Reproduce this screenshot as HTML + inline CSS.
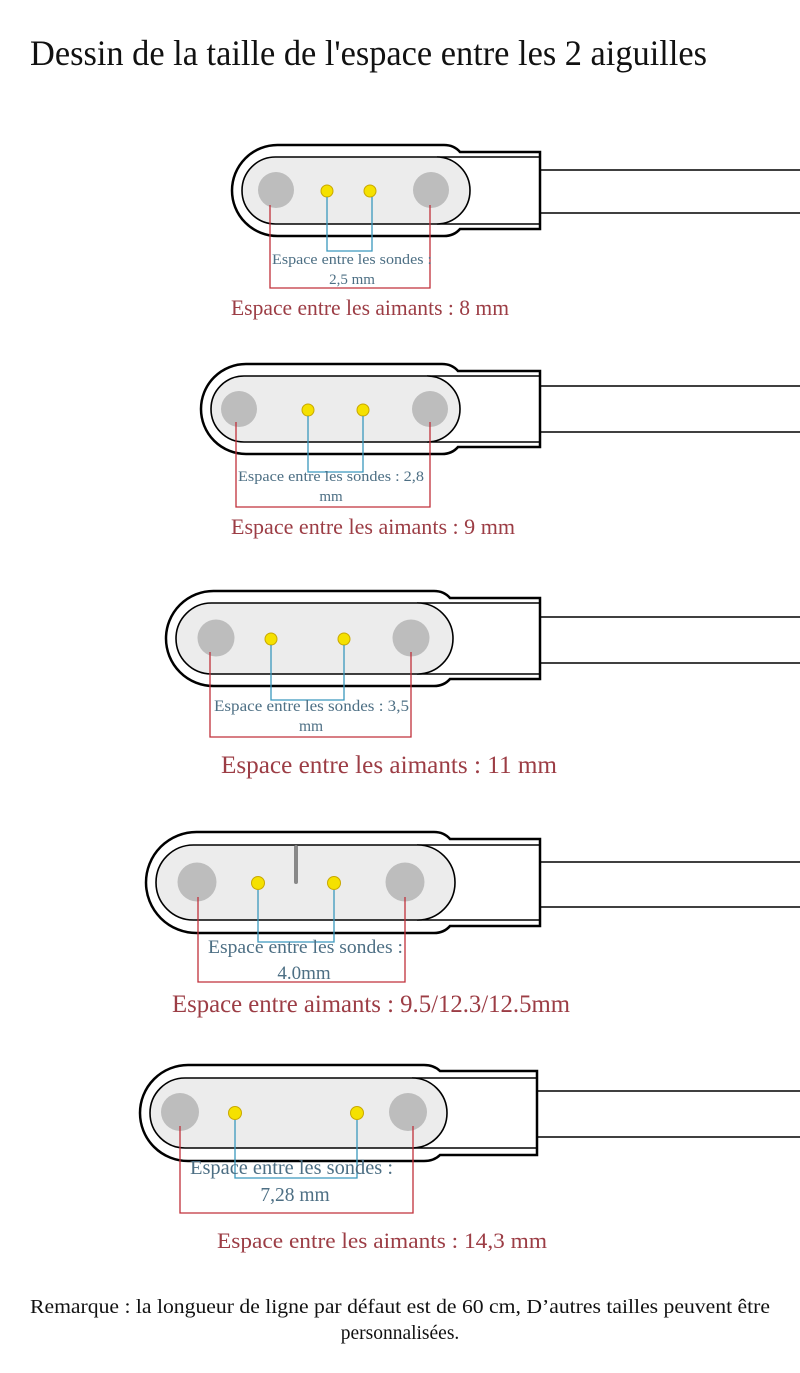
<!DOCTYPE html>
<html><head><meta charset="utf-8"><style>
body{margin:0;background:#fff}
svg{display:block}
text{font-family:"Liberation Serif",serif}
.o{fill:#fff;stroke:#000;stroke-width:2.5}
.p{fill:#ececec;stroke:#000;stroke-width:1.6}
.l{stroke:#000;stroke-width:1.4}
.m{fill:#bdbdbd}
.y{fill:#f5e100;stroke:#c9a800;stroke-width:1}
.b{fill:none;stroke:#3a98bd;stroke-width:1.3}
.r{fill:none;stroke:#c0303a;stroke-width:1.3}
.s{fill:#4d6f84}
.a{fill:#9c3d45}
</style></head><body>
<svg width="800" height="1373" viewBox="0 0 800 1373" xmlns="http://www.w3.org/2000/svg">
<text x="30" y="65" font-size="36" fill="#111" textLength="677" lengthAdjust="spacingAndGlyphs">Dessin de la taille de l'espace entre les 2 aiguilles</text>

<!-- 1 -->
<path class="o" d="M540,152 L460,152 Q454,145 444,145 L277.5,145 A45.5,45.5 0 0 0 277.5,236 L444,236 Q454,236 460,229 L540,229 Z"/>
<line class="l" x1="437" y1="157" x2="540" y2="157"/><line class="l" x1="437" y1="224" x2="540" y2="224"/>
<rect class="p" x="242" y="157" width="228" height="67" rx="33.5"/>
<line class="l" x1="540" y1="170" x2="800" y2="170"/><line class="l" x1="540" y1="213" x2="800" y2="213"/>
<circle class="m" cx="276" cy="190" r="18"/><circle class="m" cx="431" cy="190" r="18"/>
<circle class="y" cx="327" cy="191" r="6"/><circle class="y" cx="370" cy="191" r="6"/>
<polyline class="b" points="327,197 327,251 372,251 372,197"/>
<polyline class="r" points="270,205 270,288 430,288 430,205"/>
<text class="s" x="272" y="264" font-size="14.5" textLength="160" lengthAdjust="spacingAndGlyphs">Espace entre les sondes :</text>
<text class="s" x="352" y="284" font-size="15" text-anchor="middle">2,5 mm</text>
<text class="a" x="231" y="315" font-size="22.5" textLength="278" lengthAdjust="spacingAndGlyphs">Espace entre les aimants : 8 mm</text>

<!-- 2 -->
<path class="o" d="M540,371 L458,371 Q452,364 442,364 L246,364 A45,45 0 0 0 246,454 L442,454 Q452,454 458,447 L540,447 Z"/>
<line class="l" x1="427" y1="376" x2="540" y2="376"/><line class="l" x1="427" y1="442" x2="540" y2="442"/>
<rect class="p" x="211" y="376" width="249" height="66" rx="33"/>
<line class="l" x1="540" y1="386" x2="800" y2="386"/><line class="l" x1="540" y1="432" x2="800" y2="432"/>
<circle class="m" cx="239" cy="409" r="18"/><circle class="m" cx="430" cy="409" r="18"/>
<circle class="y" cx="308" cy="410" r="6"/><circle class="y" cx="363" cy="410" r="6"/>
<polyline class="b" points="308,416 308,472 363,472 363,416"/>
<polyline class="r" points="236,422 236,507 430,507 430,422"/>
<text class="s" x="238" y="481" font-size="15" textLength="186" lengthAdjust="spacingAndGlyphs">Espace entre les sondes : 2,8</text>
<text class="s" x="331" y="501" font-size="15" text-anchor="middle">mm</text>
<text class="a" x="231" y="534" font-size="22.5" textLength="284" lengthAdjust="spacingAndGlyphs">Espace entre les aimants : 9 mm</text>

<!-- 3 -->
<path class="o" d="M540,598 L450,598 Q444,591 434,591 L213.5,591 A47.5,47.5 0 0 0 213.5,686 L434,686 Q444,686 450,679 L540,679 Z"/>
<line class="l" x1="417" y1="603" x2="540" y2="603"/><line class="l" x1="417" y1="674" x2="540" y2="674"/>
<rect class="p" x="176" y="603" width="277" height="71" rx="35.5"/>
<line class="l" x1="540" y1="617" x2="800" y2="617"/><line class="l" x1="540" y1="663" x2="800" y2="663"/>
<circle class="m" cx="216" cy="638" r="18.5"/><circle class="m" cx="411" cy="638" r="18.5"/>
<circle class="y" cx="271" cy="639" r="6"/><circle class="y" cx="344" cy="639" r="6"/>
<polyline class="b" points="271,645 271,700 344,700 344,645"/>
<polyline class="r" points="210,652 210,737 411,737 411,652"/>
<text class="s" x="214" y="711" font-size="15.5" textLength="195" lengthAdjust="spacingAndGlyphs">Espace entre les sondes : 3,5</text>
<text class="s" x="311" y="731" font-size="15.5" text-anchor="middle">mm</text>
<text class="a" x="221" y="773" font-size="25" textLength="336" lengthAdjust="spacingAndGlyphs">Espace entre les aimants : 11 mm</text>

<!-- 4 -->
<path class="o" d="M540,839 L450,839 Q444,832 434,832 L196.5,832 A50.5,50.5 0 0 0 196.5,933 L434,933 Q444,933 450,926 L540,926 Z"/>
<line class="l" x1="417" y1="845" x2="540" y2="845"/><line class="l" x1="417" y1="920" x2="540" y2="920"/>
<rect class="p" x="156" y="845" width="299" height="75" rx="37.5"/>
<line class="l" x1="540" y1="862" x2="800" y2="862"/><line class="l" x1="540" y1="907" x2="800" y2="907"/>
<line x1="296" y1="847" x2="296" y2="882" stroke="#888" stroke-width="4" stroke-linecap="round"/>
<circle class="m" cx="197" cy="882" r="19.5"/><circle class="m" cx="405" cy="882" r="19.5"/>
<circle class="y" cx="258" cy="883" r="6.5"/><circle class="y" cx="334" cy="883" r="6.5"/>
<polyline class="b" points="258,890 258,942 334,942 334,890"/>
<polyline class="r" points="198,897 198,982 405,982 405,897"/>
<text class="s" x="208" y="953" font-size="19" textLength="195" lengthAdjust="spacingAndGlyphs">Espace entre les sondes :</text>
<text class="s" x="304" y="979" font-size="19" text-anchor="middle">4.0mm</text>
<text class="a" x="172" y="1012" font-size="25" textLength="398" lengthAdjust="spacingAndGlyphs">Espace entre aimants : 9.5/12.3/12.5mm</text>

<!-- 5 -->
<path class="o" d="M537,1071 L440,1071 Q434,1065 424,1065 L188,1065 A48,48 0 0 0 188,1161 L424,1161 Q434,1161 440,1155 L537,1155 Z"/>
<line class="l" x1="412" y1="1078" x2="537" y2="1078"/><line class="l" x1="412" y1="1148" x2="537" y2="1148"/>
<rect class="p" x="150" y="1078" width="297" height="70" rx="35"/>
<line class="l" x1="537" y1="1091" x2="800" y2="1091"/><line class="l" x1="537" y1="1137" x2="800" y2="1137"/>
<circle class="m" cx="180" cy="1112" r="19"/><circle class="m" cx="408" cy="1112" r="19"/>
<circle class="y" cx="235" cy="1113" r="6.5"/><circle class="y" cx="357" cy="1113" r="6.5"/>
<polyline class="b" points="235,1120 235,1178 357,1178 357,1120"/>
<polyline class="r" points="180,1126 180,1213 413,1213 413,1126"/>
<text class="s" x="190" y="1174" font-size="19.5" textLength="203" lengthAdjust="spacingAndGlyphs">Espace entre les sondes :</text>
<text class="s" x="295" y="1201" font-size="19.5" text-anchor="middle">7,28 mm</text>
<text class="a" x="217" y="1248" font-size="22.5" textLength="330" lengthAdjust="spacingAndGlyphs">Espace entre les aimants : 14,3 mm</text>

<text x="30" y="1313" font-size="19.5" fill="#111" textLength="740" lengthAdjust="spacingAndGlyphs">Remarque : la longueur de ligne par défaut est de 60 cm, D’autres tailles peuvent être</text>
<text x="400" y="1339" font-size="19.5" fill="#111" text-anchor="middle">personnalisées.</text>
</svg>
</body></html>
